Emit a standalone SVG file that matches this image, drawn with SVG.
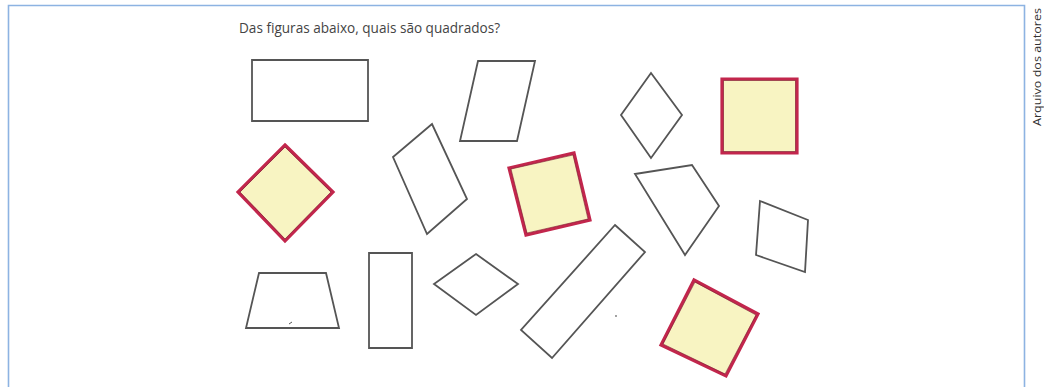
<svg xmlns="http://www.w3.org/2000/svg" width="1044" height="387" viewBox="0 0 1044 387">
  <style>
    .shape { fill: none; stroke: #555555; stroke-width: 1.8; stroke-linejoin: miter; }
    .square { fill: #f8f4c2; stroke: #c2264c; stroke-width: 3.2; stroke-linejoin: miter; }
    .inner { fill: none; stroke: #7a1a30; stroke-width: 1; opacity: 0.6; }
    .title { font-family: "Open Sans", "Liberation Sans", sans-serif; font-size: 14px; fill: #444444; }
    .credit { font-family: "Open Sans", "Liberation Sans", sans-serif; font-size: 11.5px; fill: #333333; }
  </style>
  <rect x="0" y="0" width="1044" height="387" fill="#ffffff"/>
  <path id="frame" d="M8.5,387 V5.5 H1024.5 V387" fill="none" stroke="#8db3e2" stroke-width="1.6"/>
  <text id="title" class="title" x="239" y="33" textLength="261" lengthAdjust="spacingAndGlyphs">Das figuras abaixo, quais são quadrados?</text>
  <text id="credit" class="credit" transform="translate(1040.5,126) rotate(-90)" x="0" y="0" textLength="118" lengthAdjust="spacingAndGlyphs">Arquivo dos autores</text>

  <g id="shapes">
    <g id="rect-top"><polygon class="shape" points="252,60 368,60 368,121 252,121"/></g>
    <g id="parallelogram-top"><polygon class="shape" points="478,61 535,61 517,141 460,141"/></g>
    <g id="rhombus-top"><polygon class="shape" points="651,73 682,115 651,158 621,115"/></g>
    <g id="square-top-right">
      <polygon class="square" points="722,79 797,79 797,153 722,153"/>
      <polygon class="inner" points="723.5,80.5 795.5,80.5 795.5,151.5 723.5,151.5"/>
    </g>
    <g id="square-diamond-left">
      <polygon class="square" points="285,145 333,192 285,241 238,192"/>
      <polygon class="inner" points="285,147 331,192 285,239 240,192"/>
    </g>
    <g id="tilted-rect"><polygon class="shape" points="432,124 467,199 427,234 393,157"/></g>
    <g id="square-middle">
      <polygon class="square" points="509,168 574,153 590,220 526,235"/>
      <polygon class="inner" points="511,169 573,155 588,219 527,233"/>
    </g>
    <g id="quad-kite"><polygon class="shape" points="635,174 692,165 719,206 685,255"/></g>
    <g id="parallelogram-right"><polygon class="shape" points="760,201 808,220 805,272 756,255"/></g>
    <g id="trapezoid">
      <polygon class="shape" points="259,273 326,273 339,328 246,328"/>
      <path d="M289,324 l3,-2" stroke="#555555" stroke-width="1"/>
    </g>
    <g id="rect-vertical"><polygon class="shape" points="369,253 412,253 412,348 369,348"/></g>
    <g id="rhombus-bottom"><polygon class="shape" points="476,254 518,284 476,315 434,284"/></g>
    <g id="long-rect"><polygon class="shape" points="615,225 645,252 552,358 521,330"/></g>
    <circle cx="616" cy="316" r="0.9" fill="#777777"/>
    <g id="square-bottom">
      <polygon class="square" points="694,280 758,314 726,376 661,345"/>
      <polygon class="inner" points="695,282 756,315 725,374 663,344"/>
    </g>
  </g>
</svg>
